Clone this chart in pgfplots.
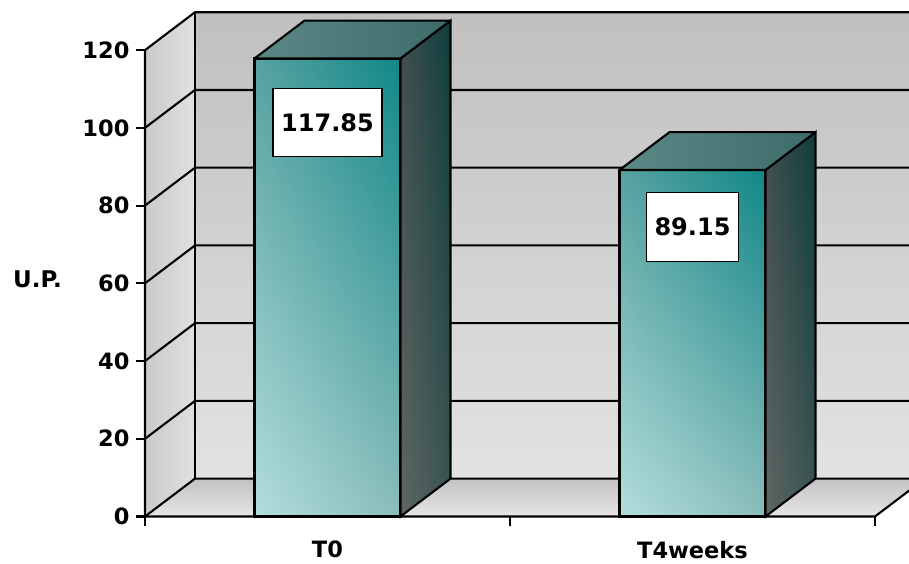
\documentclass[border=0pt]{standalone}
\usepackage{fontspec}
\setmainfont{DejaVu Sans}
\usepackage{pgfplots}
\pgfplotsset{compat=1.18}
\usetikzlibrary{shadings}
\definecolor{backTop}{HTML}{C0C0C0}
\definecolor{backBot}{HTML}{E2E2E2}
\definecolor{leftL}{HTML}{CACACA}
\definecolor{leftR}{HTML}{E0E0E0}
\definecolor{floorB}{HTML}{C2C2C2}
\definecolor{floorF}{HTML}{E6E6E6}
\definecolor{fLL}{HTML}{B2DEDC}
\definecolor{fLR}{HTML}{8ABCBA}
\definecolor{fUL}{HTML}{58A2A0}
\definecolor{fUR}{HTML}{108888}
\definecolor{sLL}{HTML}{5E6664}
\definecolor{sLR}{HTML}{3A5452}
\definecolor{sUL}{HTML}{404E4C}
\definecolor{sUR}{HTML}{0E3E3E}
\definecolor{tL}{HTML}{5C8886}
\definecolor{tM}{HTML}{7E9C9A}
\definecolor{tR}{HTML}{3C6C6A}
\begin{document}
\begin{tikzpicture}
\begin{axis}[
  scale only axis, width=764pt, height=516.5pt,
  xmin=0, xmax=2.0932, ymin=0, ymax=132.9,
  clip=false,
  axis line style={draw=none},
  xtick pos=bottom, ytick pos=left,
  tick align=outside, major tick length=9pt,
  tick style={black, line width=2.1pt},
  ytick={0,20,...,120},
  y tick label style={xshift=-3pt},
  xtick={0,1,2}, xticklabels={},
  extra x ticks={0.5,1.5}, extra x tick labels={T0,T4weeks},
  extra x tick style={major tick length=0pt,
     tick label style={yshift=-21pt}},
  /pgf/number format/assume math mode=true,
  tick label style={font=\fontsize{22.5}{26}\selectfont\bfseries},
  every axis plot/.append style={mark=none},
]
% back wall
\addplot[draw=none, top color=backTop, bottom color=backBot, forget plot]
  coordinates {(0.137,9.75) (2.137,9.75) (2.137,129.75) (0.137,129.75)} --cycle;
% left wall
\addplot[draw=none, left color=leftL, right color=leftR, forget plot]
  coordinates {(0,0) (0.137,9.75) (0.137,129.75) (0,120)} --cycle;
% floor
\addplot[draw=none, top color=floorB, bottom color=floorF, forget plot]
  coordinates {(0,0) (2,0) (2.137,9.75) (0.137,9.75)} --cycle;
% grid lines
\pgfplotsinvokeforeach{0,20,40,60,80,100,120}{
  \draw[black, line width=2.1pt] (axis cs:0,#1) -- ++(50pt,37.9pt) -- ++(760pt,0pt);
}
\draw[black, line width=2.1pt] (axis cs:0.137,9.75) -- (axis cs:0.137,129.75);
% bar T0
\addplot[ybar, bar width=0.4, bar shift=0pt, draw=black, line width=2.1pt,
  lower left=fLL, lower right=fLR, upper left=fUL, upper right=fUR,
  nodes near coords, nodes near coords style={anchor=center, yshift=-64pt,
    draw=black, fill=white, line width=1.8pt, inner xsep=8pt, minimum height=68pt,
    font=\fontsize{24}{28}\selectfont\bfseries, text=black}]
  coordinates {(0.5,117.85)};
\addplot[draw=black, line width=2.1pt, lower left=sLL, lower right=sLR, upper left=sUL, upper right=sUR, forget plot]
  coordinates {(0.7,0) (0.837,9.75) (0.837,127.6) (0.7,117.85)} --cycle;
\addplot[draw=black, line width=2.1pt, line join=round, left color=tL, middle color=tM, right color=tR, forget plot]
  coordinates {(0.3,117.85) (0.7,117.85) (0.837,127.6) (0.437,127.6)} --cycle;
% bar T4weeks
\addplot[ybar, bar width=0.4, bar shift=0pt, draw=black, line width=2.1pt,
  lower left=fLL, lower right=fLR, upper left=fUL, upper right=fUR,
  nodes near coords, nodes near coords style={anchor=center, yshift=-57pt,
    draw=black, fill=white, line width=1.8pt, inner xsep=8pt, minimum height=69pt,
    font=\fontsize{24}{28}\selectfont\bfseries, text=black}]
  coordinates {(1.5,89.15)};
\addplot[draw=black, line width=2.1pt, lower left=sLL, lower right=sLR, upper left=sUL, upper right=sUR, forget plot]
  coordinates {(1.7,0) (1.837,9.75) (1.837,98.9) (1.7,89.15)} --cycle;
\addplot[draw=black, line width=2.1pt, line join=round, left color=tL, middle color=tM, right color=tR, forget plot]
  coordinates {(1.3,89.15) (1.7,89.15) (1.837,98.9) (1.437,98.9)} --cycle;
% front axis lines
\draw[black, line width=2.1pt, line join=round] (axis cs:0,120) -- (axis cs:0,0) -- (axis cs:2,0) -- ++(50pt,37.9pt);
\node[font=\fontsize{23}{27}\selectfont\bfseries] at (axis cs:0,61.1) [xshift=-107.5pt] {U.P.};
\end{axis}
\pgfresetboundingbox
\path (current axis.south west) ++(-145pt,-47.5pt) rectangle ++(909pt,564pt);
\end{tikzpicture}
\end{document}
